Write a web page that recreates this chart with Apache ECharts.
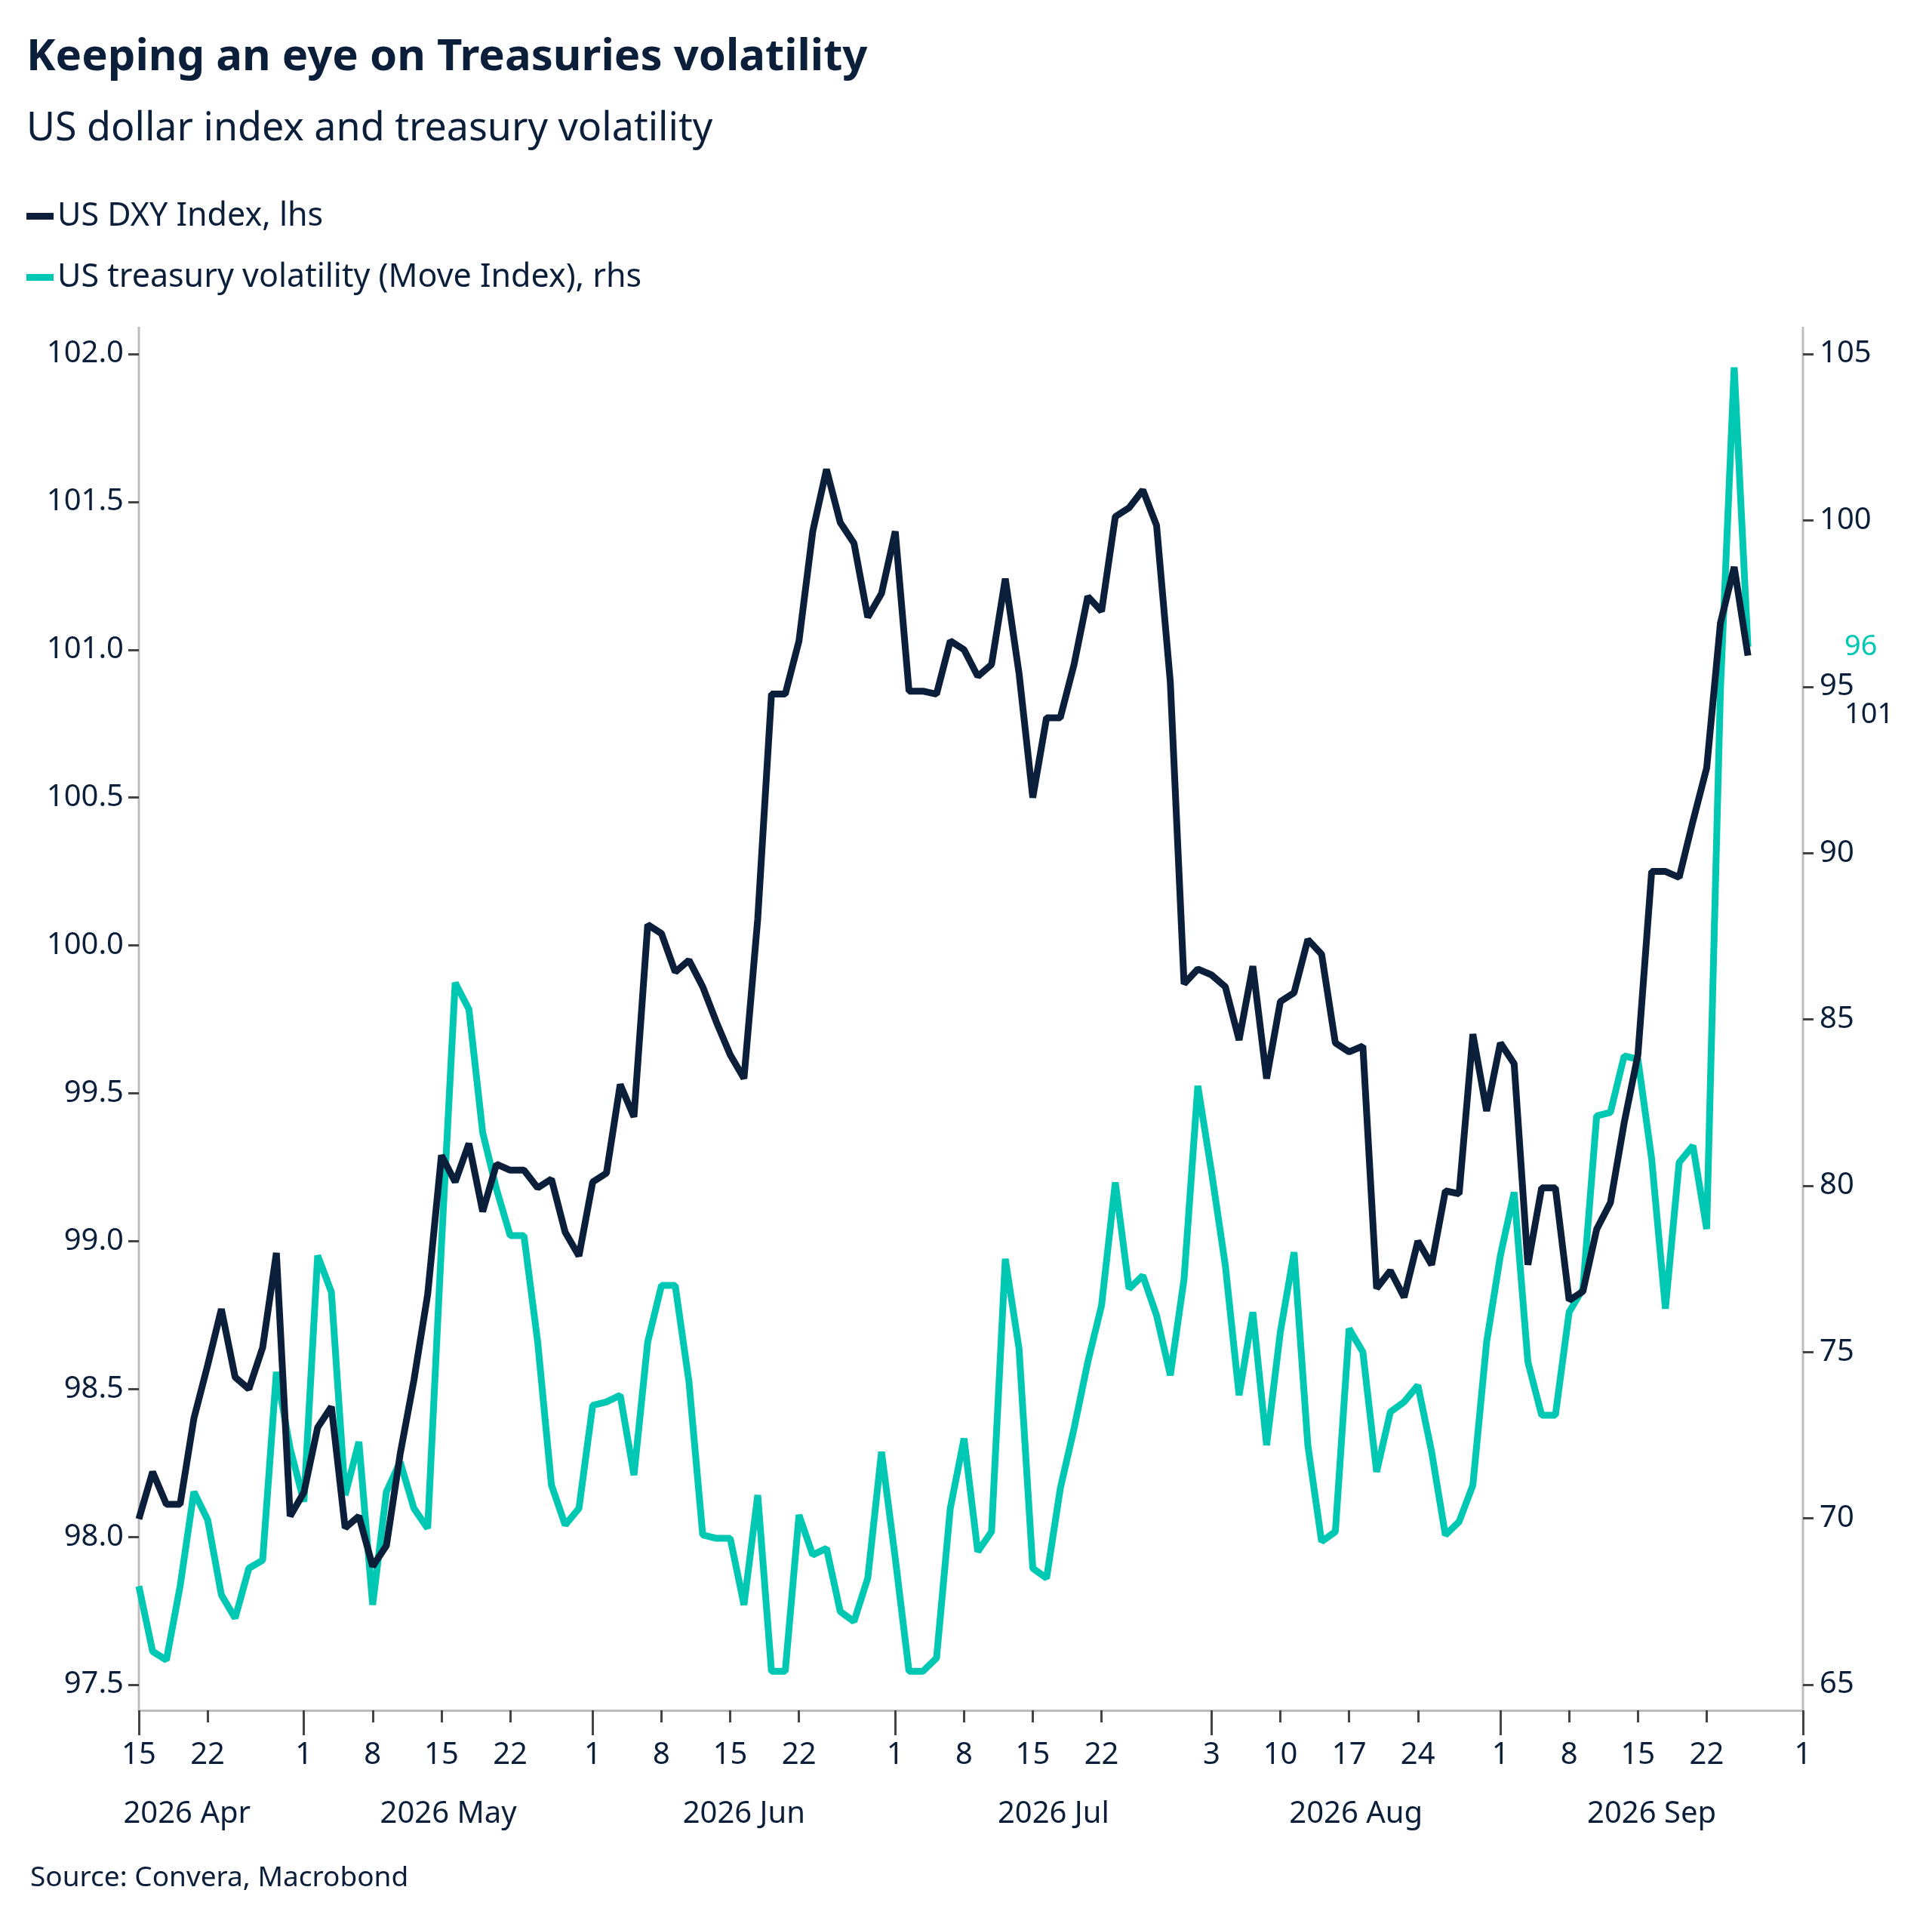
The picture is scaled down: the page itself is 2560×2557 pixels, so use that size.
<!DOCTYPE html>
<html lang="en">
<head>
<meta charset="UTF-8">
<title>Keeping an eye on Treasuries volatility</title>
<script src="https://cdn.jsdelivr.net/npm/echarts@6/dist/echarts.min.js"></script>
<style>html,body{margin:0;padding:0;background:#fff;}</style>
</head>
<body>
<div id="main" style="width:2560px;height:2557px;"></div>
<script>
// business-day categories, 15 Apr 2026 .. 1 Oct 2026
var dates = [];
(function () {
    var d = new Date(Date.UTC(2026, 3, 15));
    var end = new Date(Date.UTC(2026, 9, 1));
    while (d <= end) {
        var wd = d.getUTCDay();
        if (wd !== 0 && wd !== 6) dates.push(d.toISOString().slice(0, 10));
        d.setUTCDate(d.getUTCDate() + 1);
    }
})();

var dxy = [98.06, 98.22, 98.11, 98.11, 98.40, 98.58, 98.77, 98.54, 98.50, 98.64,
    98.96, 98.07, 98.15, 98.37, 98.44, 98.03, 98.07, 97.90, 97.97, 98.28,
    98.53, 98.82, 99.29, 99.20, 99.33, 99.10, 99.26, 99.24, 99.24, 99.18,
    99.21, 99.03, 98.95, 99.20, 99.23, 99.53, 99.42, 100.07, 100.04, 99.91,
    99.95, 99.86, 99.74, 99.63, 99.55, 100.09, 100.85, 100.85, 101.03, 101.40,
    101.61, 101.43, 101.36, 101.11, 101.19, 101.40, 100.86, 100.86, 100.85, 101.03,
    101.00, 100.91, 100.95, 101.24, 100.92, 100.50, 100.77, 100.77, 100.95, 101.18,
    101.13, 101.45, 101.48, 101.54, 101.42, 100.89, 99.87, 99.92, 99.90, 99.86,
    99.68, 99.93, 99.55, 99.81, 99.84, 100.02, 99.97, 99.67, 99.64, 99.66,
    98.84, 98.90, 98.81, 99.00, 98.92, 99.17, 99.16, 99.70, 99.44, 99.67,
    99.60, 98.92, 99.18, 99.18, 98.80, 98.83, 99.04, 99.13, 99.40, 99.63,
    100.25, 100.25, 100.23, 100.42, 100.60, 101.09, 101.28, 100.98];

var move = [67.96, 66.0, 65.74, 67.96, 70.8, 69.96, 67.7, 67.0, 68.5, 68.74,
    74.4, 72.1, 70.5, 77.9, 76.8, 70.7, 72.3, 67.4, 70.8, 71.7,
    70.3, 69.7, 78.2, 86.1, 85.3, 81.6, 79.9, 78.5, 78.5, 75.3,
    71.0, 69.8, 70.3, 73.4, 73.5, 73.7, 71.3, 75.3, 77.0, 77.0,
    74.1, 69.5, 69.4, 69.4, 67.4, 70.7, 65.4, 65.4, 70.1, 68.9,
    69.1, 67.2, 66.9, 68.2, 72.0, 68.8, 65.4, 65.4, 65.8, 70.3,
    72.4, 69.0, 69.6, 77.8, 75.1, 68.5, 68.2, 70.9, 72.7, 74.7,
    76.4, 80.1, 76.9, 77.3, 76.1, 74.3, 77.2, 83.0, 80.4, 77.6,
    73.7, 76.2, 72.2, 75.6, 78.0, 72.2, 69.3, 69.6, 75.7, 75.0,
    71.4, 73.2, 73.5, 74.0, 72.0, 69.5, 69.9, 71.0, 75.3, 77.9,
    79.8, 74.7, 73.1, 73.1, 76.2, 76.9, 82.1, 82.2, 83.9, 83.8,
    80.8, 76.3, 80.7, 81.2, 78.7, 94.9, 104.6, 96.2];

var monthNames = ['2026 Apr', '2026 May', '2026 Jun', '2026 Jul', '2026 Aug', '2026 Sep'];
var monthCenters = [3.5, 22.5, 44, 66.5, 88.5, 110];

var NAVY = '#0b1f3a', TEAL = '#00c8b3', GRID = '#bdbdbd';
var FONT = 'Noto Sans';

// first business day of each month
var firstDay = {};
dates.forEach(function (d, i) {
    var m = d.slice(0, 7);
    if (!(m in firstDay)) firstDay[m] = i;
});
function isMonthStart(i) { return firstDay[dates[i].slice(0, 7)] === i; }
function isLabel(i) {
    var m = dates[i].slice(0, 7);
    var ref = +dates[firstDay[m]].slice(8);
    var day = +dates[i].slice(8);
    return (day - ref) % 7 === 0 && day <= 24;
}

var myChart = echarts.init(document.getElementById('main'));
var option = {
    animation: false,
    textStyle: { fontFamily: FONT },
    title: [
        { text: 'Keeping an eye on Treasuries volatility', left: 30, top: 42,
          textStyle: { fontFamily: FONT, fontSize: 58, fontWeight: 'bold', color: NAVY } },
        { text: 'US dollar index and treasury volatility', left: 30, top: 140,
          textStyle: { fontFamily: FONT, fontSize: 52, fontWeight: 'normal', color: NAVY } }
    ],
    legend: {
        orient: 'vertical', left: 30, top: 260, itemGap: 38,
        itemWidth: 36, itemHeight: 9, icon: 'rect',
        textStyle: { fontFamily: FONT, fontSize: 43, color: NAVY },
        data: ['US DXY Index, lhs', 'US treasury volatility (Move Index), rhs']
    },
    grid: { left: 184, right: 171, top: 469, bottom: 325 },
    xAxis: [{
        type: 'category', data: dates, boundaryGap: false, offset: 34,
        axisLine: { lineStyle: { color: GRID, width: 3 } },
        axisTick: { length: 16, lineStyle: { color: '#444', width: 3 },
            interval: function (i) { return isLabel(i) && !isMonthStart(i); } },
        axisLabel: { interval: function (i) { return isLabel(i); }, margin: 40,
            fontSize: 40, color: NAVY, fontFamily: FONT,
            formatter: function (v) { return String(+v.slice(8)); } }
    }, {
        type: 'category', data: dates, boundaryGap: false, offset: 34, position: 'bottom',
        axisLine: { show: false },
        axisTick: { length: 33, lineStyle: { color: '#444', width: 3 },
            interval: function (i) { return isMonthStart(i); } },
        axisLabel: { show: false }
    }],
    yAxis: [{
        type: 'value', min: 97.5, max: 102, interval: 0.5, position: 'left',
        splitLine: { show: false }, axisLine: { show: false },
        axisTick: { show: true, length: 14, lineStyle: { color: '#444', width: 3 } },
        axisLabel: { fontSize: 40, color: NAVY, margin: 20, fontFamily: FONT,
            formatter: function (v) { return v.toFixed(1); } }
    }, {
        type: 'value', min: 65, max: 105, interval: 5, position: 'right',
        splitLine: { show: false }, axisLine: { show: false },
        axisTick: { show: true, length: 14, lineStyle: { color: '#444', width: 3 } },
        axisLabel: { fontSize: 40, color: NAVY, margin: 22, fontFamily: FONT }
    }],
    series: [{
        name: 'US treasury volatility (Move Index), rhs', type: 'line', yAxisIndex: 1,
        data: move, showSymbol: false, itemStyle: { color: TEAL },
        lineStyle: { color: TEAL, width: 9 }, z: 2
    }, {
        name: 'US DXY Index, lhs', type: 'line', yAxisIndex: 0,
        data: dxy, showSymbol: false, itemStyle: { color: NAVY },
        lineStyle: { color: NAVY, width: 9 }, z: 3
    }]
};
myChart.setOption(option);

// axis lines, month labels, last-value labels
function xPix(idx) {
    var a = Math.floor(idx), b = Math.min(a + 1, dates.length - 1);
    var pa = myChart.convertToPixel({ xAxisIndex: 0 }, a);
    var pb = myChart.convertToPixel({ xAxisIndex: 0 }, b);
    return pa + (pb - pa) * (idx - a);
}
var x0 = xPix(0), x1 = xPix(dates.length - 1);
var yTop = 469 - 36, yBot = 2557 - 325 + 34;
var g = [
    { type: 'line', shape: { x1: x0, y1: yTop, x2: x0, y2: yBot }, style: { stroke: GRID, lineWidth: 3 } },
    { type: 'line', shape: { x1: x1, y1: yTop, x2: x1, y2: yBot }, style: { stroke: GRID, lineWidth: 3 } },
    { type: 'text', left: 40, top: 2470,
      style: { text: 'Source: Convera, Macrobond', fontSize: 37, fill: NAVY, fontFamily: FONT } }
];
monthNames.forEach(function (n, k) {
    g.push({ type: 'text', x: xPix(monthCenters[k]), y: 2404,
        style: { text: n, fontSize: 40, fill: NAVY, fontFamily: FONT, align: 'center', verticalAlign: 'middle' } });
});
var lastMove = move[move.length - 1], lastDxy = dxy[dxy.length - 1];
var yMove = myChart.convertToPixel({ yAxisIndex: 1 }, lastMove);
var yDxy = Math.max(myChart.convertToPixel({ yAxisIndex: 0 }, lastDxy), yMove + 90);
g.push({ type: 'text', x: x1 + 55, y: yMove,
    style: { text: String(Math.round(lastMove)), fontSize: 38, fill: TEAL, fontFamily: FONT, verticalAlign: 'middle' } });
g.push({ type: 'text', x: x1 + 55, y: yDxy,
    style: { text: String(Math.round(lastDxy)), fontSize: 38, fill: NAVY, fontFamily: FONT, verticalAlign: 'middle' } });
myChart.setOption({ graphic: g });
</script>
</body>
</html>
